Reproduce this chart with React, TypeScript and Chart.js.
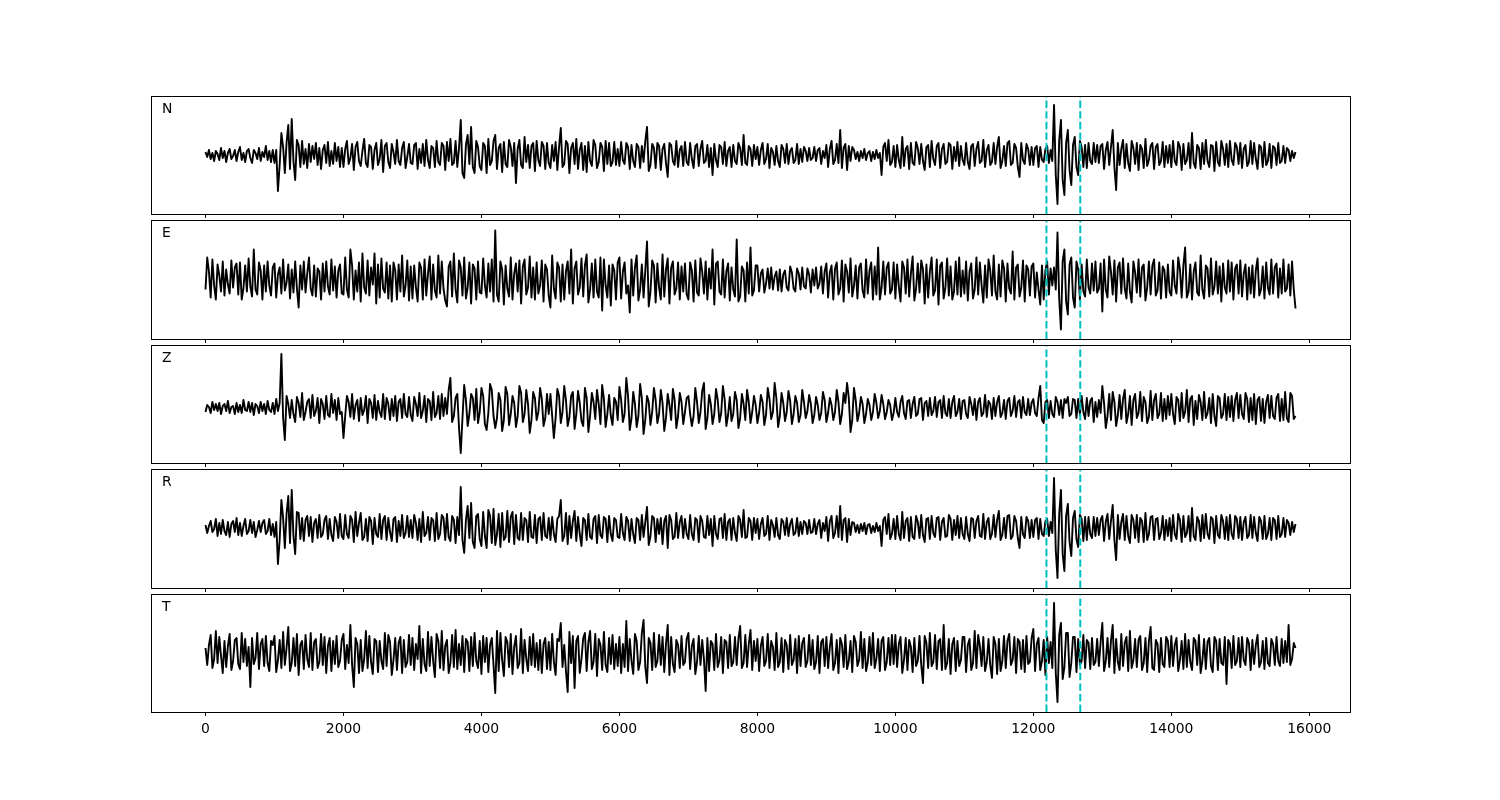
import React, { useEffect, useRef } from "react";
import { Chart, registerables } from "chart.js";

Chart.register(...registerables);

// ---- data ----
const SAMPLE_STEP = 25; // x spacing of the samples
const xTickValues = [0, 2000, 4000, 6000, 8000, 10000, 12000, 14000, 16000];
const xLimits = [-790, 16590];
const pickTimes = [12190, 12680];
const componentNames = ["N", "E", "Z", "R", "T"];

const nValues = [
  3,-2,5,-4,2,-6,4,1,-5,7, -3,4,-7,2,6,-4,-1,5,-6,3, 8,-5,2,-7,4,6,-3,-8,5,2, -4,7,-6,3,-2,9,-5,4,-7,5,
  -8,5,-36,-10,22,8,-18,12,30,-14, 36,-6,-25,15,10,-12,14,-9,6,-13, 11,-7,9,-4,12,-10,7,-14,5,10, -8,13,-11,4,-9,12,-6,8,-12,7,
  -12,6,14,-9,-3,11,-15,8,13,-6, -11,4,16,-8,-12,10,8,-14,5,12, -10,-4,15,-17,9,12,-7,-13,11,3, -9,15,-6,-10,7,13,-13,-2,11,-8,
  -9,10,12,-14,6,-8,11,-11,15,-5, -13,9,7,-12,14,-7,-10,12,9,-15, 13,-6,16,-10,-8,14,-12,7,35,-18, -23,10,20,-9,28,-12,-18,14,8,-11,
  -15,12,9,-18,16,-10,-6,14,20,-14, 7,11,-17,13,-9,-12,15,8,-11,12, -28,6,15,-10,-13,18,-7,10,-13,9, 12,-16,14,-5,-11,13,9,-14,12,-8,
  -13,10,-6,13,-15,8,27,-12,-9,14, 11,-18,7,12,-9,16,-14,5,12,-15, 9,-17,13,-6,-11,15,10,-13,-7,12, 8,-16,14,-9,12,-11,-7,13,-10,6,
  -11,13,-5,-9,12,8,-14,10,-6,-12, 11,8,-13,9,-7,14,28,-16,-10,11, 7,-13,12,9,-15,6,11,-8,-22,12, 10,-6,-10,14,-12,5,9,-11,13,-7,
  -10,12,-4,-13,9,11,-11,6,14,-8, -6,10,-12,7,-20,11,-5,-12,10,8, -9,13,-11,4,8,-12,10,-6,-9,12, 7,-10,20,-8,-10,9,6,-11,10,-4,
  8,-10,5,12,-9,-4,11,-13,7,3, -10,9,-6,-12,10,6,-8,11,-9,4, 7,-8,-5,11,-9,6,-7,8,4,-6, 7,-5,-3,8,-6,5,7,-9,4,-3,
  10,-12,6,14,-9,-5,11,-8,25,-13, 7,11,-15,9,-6,8,5,-4,3,-6, 4,-3,6,-5,2,4,-6,3,-4,5, -3,2,-20,8,12,-6,15,-10,-7,9,
  -12,10,-5,-13,18,-11,6,9,-14,12, -8,-10,13,7,-9,11,-6,-15,8,10, -12,14,-4,-10,9,12,-13,6,11,-9, -7,12,10,-14,8,-6,13,-11,9,-5,
  -10,12,-7,-14,9,11,-11,6,13,-8, -6,15,-12,5,10,-10,-7,12,-9,8, 18,-13,-6,9,-11,12,14,-10,-8,11, 7,-12,-22,12,-5,-9,11,6,-10,8,
  -10,7,9,-12,8,-5,-7,6,9,-8, 5,-6,50,-20,-49,15,35,-25,-40,12, 25,-15,-30,10,18,-12,-20,14,8,-12, 10,-13,12,-6,-9,12,-7,10,-8,9,
  11,-14,5,13,-10,8,25,-12,-35,12, -10,6,15,-13,11,-8,-16,14,7,-9, 12,-15,10,6,-13,16,-11,-5,9,12, -14,8,11,-10,-6,13,-12,9,-8,10,
  -12,14,-6,-10,13,8,-15,11,-9,-5, 12,-13,22,-8,-13,10,7,-14,12,-9, 15,-6,-12,10,9,-16,13,-7,-11,14, 6,-10,11,-12,14,-5,-10,12,8,-9,
  12,-13,6,10,-11,-7,14,-9,12,-4, -14,10,8,-12,13,-10,-6,11,-13,9, 7,-10,12,-8,-6,9,-8,7,5,-6, 4,-3,3,
];

const eValues = [
  -10,22,8,-18,20,-6,-20,15,4,-12, 18,-16,10,-5,-14,19,-8,12,16,-15, 17,-20,-9,14,-12,21,-7,-17,30,-10, -15,17,9,-20,14,-12,18,-6,-16,12,
  16,-18,5,12,-14,20,-11,-3,15,-19, 10,-13,18,-9,-28,14,-10,18,-13,6, 22,-9,-16,14,-17,11,8,-20,16,-12, 18,-7,-15,20,-11,13,-18,9,15,-14,
  -15,22,-10,-18,30,14,-20,9,-12,17, -22,26,-8,-14,19,-16,12,-5,26,-24, 15,-18,21,-9,-13,17,-19,14,-22,17, 9,-20,15,-12,24,-17,-6,19,-21,13,
  -19,14,-8,-22,17,12,-20,20,-16,6, 23,-20,15,-11,-18,24,-14,18,-9,-21, -27,13,18,-17,26,-10,-23,19,12,-16, 22,-19,-8,17,-24,15,11,-20,18,-13,
  -14,21,-6,-18,16,-12,20,-22,49,-15, -22,18,10,-25,14,-9,-17,22,-20,6, 16,-12,19,-24,13,20,-15,-8,23,-18, 12,-20,17,-14,-6,19,-22,15,10,-16,
  -28,24,-9,-19,17,12,-22,15,-20,8, 18,-14,30,-24,11,18,-15,-8,21,-17, 14,25,-23,-10,16,-18,20,-12,-18,22, -31,20,-6,-18,14,-26,15,9,-20,17,
  22,-19,8,17,-14,-6,-33,20,-16,12, 24,-21,-10,15,-18,9,38,-27,-12,19, 14,-23,16,-8,-20,25,-17,10,21,-24, 12,18,-15,-9,17,-20,13,-12,16,-15,
  -20,17,9,-22,19,-13,-16,21,8,-14, 18,-20,11,-9,30,-25,16,18,-12,-15, 20,-18,8,16,-21,12,-10,-17,40,-22, -17,13,9,-22,17,-14,32,-16,-11,14,
  14,-12,6,10,-13,-4,11,-9,12,-10, 3,8,-11,10,-12,5,9,-8,-11,13, 7,-9,-12,11,6,-10,12,-7,-9,11, 5,-13,10,-6,12,-9,-4,13,-14,8,
  16,-18,7,14,-20,11,17,-15,-9,19, -22,15,8,-13,21,-17,-6,14,-19,12, 16,-11,-18,20,-14,9,17,-20,13,-15, 32,-20,-8,18,-15,12,17,-14,-10,17,
  -19,15,-7,-22,18,12,-14,20,-17,6, 23,-21,-9,16,-13,19,10,-24,15,-18, 8,22,-16,-11,20,-25,14,17,-19,-8, 21,-16,13,-20,-12,18,-15,22,-17,9,
  -14,18,-21,8,16,-19,-10,22,-15,17, -6,-23,14,-18,20,9,-16,24,-12,-20, 15,-17,19,11,-22,16,-9,-14,28,-20, 12,15,-17,-8,19,-22,14,10,-16,13,
  16,-18,7,-10,-25,14,-20,9,18,-15, 11,-6,12,-10,47,-20,-50,18,30,-22, -35,15,22,-18,-28,18,10,-20,15,-12, -17,20,-8,-14,16,-11,18,-13,-9,16,
  -32,20,-10,-18,23,8,-15,19,-22,12, 17,-14,21,-9,-19,16,-12,-23,18,7, -13,20,-17,12,15,-21,-8,18,-15,14, 20,-16,-11,17,-19,13,9,-18,15,-12,
  -16,19,-6,-14,22,10,-18,14,32,-18, -12,15,-20,8,17,-13,-16,24,-10,-19, 14,11,-17,21,-15,-7,18,-14,13,-22, 16,-8,-14,19,-12,17,-20,11,15,-14,
  19,-17,6,15,-20,12,-14,14,-18,9, 21,-16,-10,13,-19,17,-8,-15,20,-14, 12,16,-18,11,-14,20,-12,-9,15,-16, 18,-10,-29,
];

const zValues = [
  -4,3,1,-5,6,-2,4,-3,5,-6, 2,4,-3,7,-5,1,2,-6,5,-4, 3,-5,8,-2,-3,6,-4,5,-7,4, 2,-5,6,-3,4,-6,7,-2,-4,5,
  -6,9,-3,5,54,-10,-32,12,4,-10, 8,-6,-14,11,5,-9,15,-12,-4,6, 9,-10,13,-8,-3,10,-15,9,4,-11, 12,-7,-9,14,-5,8,-12,10,-6,-4,
  -30,-8,12,6,-9,14,-11,3,8,-13, 10,-7,-2,12,-15,9,5,-10,13,-12, 7,-4,-9,14,-11,10,4,-12,9,-8, 12,-13,6,9,-10,14,-6,-9,11,-7,
  -13,11,4,-8,15,-10,-3,12,-14,9, 7,-12,16,-9,-5,12,-11,14,-8,10, -6,18,30,-14,-8,10,14,-20,-45,-10, 23,8,-18,-6,14,10,-12,19,-15,-4,
  20,12,-16,-22,-5,24,18,-8,-20,-10, 15,8,-23,-12,21,14,-17,-6,12,5, -19,-8,22,15,-14,-6,18,4,-25,-12, 16,10,-12,-4,20,9,-18,-10,14,-6,
  14,-8,-30,-10,19,12,-15,-4,22,8, -18,-9,12,16,-21,-6,17,5,-13,-18, 20,10,-24,-8,15,6,-11,18,4,-16, 23,9,-19,-6,13,-8,-17,10,6,-12,
  21,8,-14,-6,30,12,-22,-10,16,4, -19,-8,24,10,-26,-12,12,6,-17,-4, 20,8,-15,-6,18,5,-23,-10,14,3, -12,19,8,-20,-8,15,6,-16,-4,10,
  12,-6,-18,-8,20,6,-15,-4,17,25, -21,-10,13,4,-16,-6,19,8,-14,-5, 22,9,-18,-7,11,-13,-6,16,8,-20, -10,14,4,-12,18,6,-15,-4,12,3,
  -15,-5,13,6,-17,-7,20,9,-11,-4, 25,10,-19,-8,15,5,-13,-4,17,7, -16,-6,12,5,-14,-7,18,6,-10,-3, 13,4,-15,-7,11,3,-12,-5,16,8,
  -14,-5,10,3,-12,-4,18,6,-16,-6, 15,5,25,10,-24,-12,20,8,-13,-5, 11,4,-15,-6,9,3,-12,-4,14,5, -10,-3,13,4,-11,-4,8,3,-12,-5,
  10,-4,-9,6,12,-5,-11,7,8,-10, 4,11,-8,-6,9,10,-12,5,7,-8, 10,-7,-3,11,-9,6,8,-10,12,-5, -8,9,-10,6,12,-8,-4,9,-11,7,
  8,-6,-10,11,4,-7,9,-12,6,10, -8,-5,13,-9,7,4,-11,10,-8,6, 12,-9,-5,8,-11,7,10,-8,-3,12, -9,6,8,-10,11,-4,-7,9,-7,5,
  9,-5,-8,10,22,-12,-15,6,8,-10, 7,-6,-9,11,6,-7,8,-10,9,5, 11,-8,-6,9,8,-10,9,-7,12,-4, -11,10,-8,7,10,-14,6,-9,8,-5,
  22,5,-20,-8,14,-12,16,6,-18,-7, 13,-11,9,18,-15,-6,12,-17,8,14, -10,-5,16,-13,11,6,-15,-9,17,-12, 8,14,-10,-6,15,-13,9,-11,12,-7,
  14,-6,-16,11,8,-13,15,-10,-4,18, -14,9,12,-17,7,-11,13,6,-12,16, -10,-5,10,-15,14,-8,-18,12,10,-10, -6,14,-12,11,-9,12,-13,8,15,-10,
  13,-6,-11,15,9,-14,10,-12,14,-16, 8,11,-13,9,-15,6,13,-10,12,-8, -11,10,14,-13,9,-12,16,-10,-14,15, 12,-11,-8,
];

const rValues = [
  3,-5,2,7,-4,-1,9,-8,5,-6, 8,-3,-7,6,-9,4,7,-4,10,-7, 5,-8,2,9,-6,-3,8,-5,6,-9, -2,7,-4,5,8,-6,-3,9,-7,4,
  -9,6,-36,-12,28,10,-20,14,32,-15, 38,-8,-26,16,15,-11,10,-13,8,12, -8,11,-14,5,9,-10,13,-9,-6,8, 12,-11,9,-7,-13,11,6,-10,14,-8,
  -11,13,-6,-10,12,8,-14,16,-8,5, 15,-12,-9,9,-13,11,7,-16,10,-6, -9,14,-11,8,12,-12,10,-4,-13,9, 11,-14,7,-8,13,-10,-5,12,-9,8,
  -10,13,5,-12,9,-14,16,-8,-5,11, -12,10,8,-13,15,-11,-6,13,10,-12, 14,-9,-13,12,8,-15,11,-7,41,-12, -25,8,22,-10,25,-14,-20,12,14,-11,
  -18,16,-8,-20,18,12,-15,19,-17,-6, 14,-19,15,-12,-9,17,-14,11,16,-16, 13,-10,-12,15,-12,10,8,-14,16,-9, -10,13,-15,9,11,-12,15,-8,-10,10,
  -12,11,-6,-14,9,12,28,-13,-8,15, -16,12,-10,7,17,-13,11,-6,-18,10, 8,-12,14,-9,-11,9,12,-15,13,-7, -10,11,9,-14,12,-6,-13,10,8,-9,
  -10,14,-5,-12,11,7,-13,9,-6,-15, 10,8,-12,13,-9,6,21,-17,-8,12, 10,-14,9,-6,10,-16,7,12,-20,13, 8,-11,-9,15,-10,6,12,-10,9,-6,
  -11,13,-6,-12,10,8,-14,12,7,-9, -10,12,-7,9,-18,12,-6,-11,9,10, -10,14,-12,6,9,-12,10,-5,-13,12, 8,-9,18,-10,-9,10,7,-12,10,-5,
  9,-11,4,10,-8,-6,12,-12,8,3, -9,10,-7,-11,9,6,-7,10,-8,4, 9,-7,-5,10,-8,6,-6,7,5,-6, 8,-5,-4,9,-6,4,8,-10,5,-3,
  11,-13,7,12,-10,-5,12,-9,22,-12, 8,10,-14,9,-7,6,5,-4,3,-5, 4,-3,5,-6,3,4,-5,2,-4,5, -3,2,-18,8,11,-6,14,-11,-6,9,
  -11,12,-6,-12,16,-10,7,10,-13,11, -9,-11,12,6,-10,13,-7,-14,9,10, -11,12,-5,-9,10,11,-12,6,10,-9, -8,13,9,-12,8,-7,12,-10,10,-6,
  -11,11,-6,-13,10,9,-10,7,12,-8, -9,14,-11,6,10,-11,-6,13,-9,8, 17,-12,-7,10,-10,12,13,-11,-8,12, 7,-10,-20,11,-6,-10,11,7,-10,8,
  -9,8,10,-11,9,-6,-8,7,9,-8, 6,-5,50,-22,-50,14,38,-26,-43,12, 24,-14,-28,10,17,-11,-19,13,9,-13, 11,-12,11,-6,-10,11,-8,10,-7,8,
  12,-13,6,14,-11,7,23,-12,-32,13, -11,6,14,-12,12,-8,-15,13,8,-10, 13,-14,10,7,-14,15,-12,-6,11,12, -12,9,10,-11,-5,12,-12,8,-8,10,
  -13,13,-6,-11,14,8,-14,12,-9,-5, 12,-13,20,-8,-12,11,7,-13,13,-10, 14,-6,-11,11,9,-15,12,-7,-10,13, 7,-11,11,-12,13,-6,-11,12,9,-10,
  11,-12,6,11,-10,-7,13,-10,11,-5, -13,11,7,-11,12,-11,-6,10,-12,10, 8,-11,12,-9,-6,10,-9,8,5,-7, 6,-4,4,
];

const tValues = [
  5,-12,8,18,-15,-6,22,-10,16,-3, -20,12,-14,7,19,-17,-8,13,15,-11, -16,20,-9,14,-13,6,-34,15,-11,-5, 20,-16,9,14,-13,17,-10,-18,12,8,
  17,-19,-7,13,-15,21,-12,5,26,-18, -10,15,-13,19,-22,8,12,-16,18,-6, -14,20,-17,11,14,-15,-9,19,-12,16, -20,7,15,-18,12,-11,17,-14,-8,13,
  19,-16,8,-10,28,-12,-34,15,9,-20, 13,-18,-6,22,-15,17,-9,-21,14,12, -19,12,-8,-16,20,-13,18,11,-22,-7, 15,-17,10,16,-20,13,-14,-9,18,-12,
  15,-17,9,-6,27,-20,14,-11,-18,21, -13,16,-8,-24,19,12,-15,22,-17,7, 13,-20,-10,18,-14,23,-16,9,-12,17, -19,14,11,-18,16,-13,20,-8,-15,12,
  -21,17,-9,15,-19,8,15,-12,-40,22, -18,20,-7,-23,16,11,-14,19,-21,6, 17,-15,-10,24,-20,13,-6,-18,16,-12, 19,-14,10,-17,13,-20,9,15,-16,11,
  -17,19,-9,-22,14,12,30,-14,8,-18, -39,21,-10,17,-35,12,17,-20,-6,15, 20,-18,11,22,-16,-9,19,-23,14,8, -17,21,-12,-19,15,-11,18,-16,9,-13,
  16,-20,9,-14,32,-18,14,-8,-21,19, 12,-17,-9,20,33,-14,-30,15,10,-17, 20,-14,-8,18,-12,16,-19,9,28,-22, 16,-11,-19,13,8,-15,17,-12,-9,14,
  20,-16,7,14,-21,-9,17,-12,13,-6, -38,15,-18,12,9,-17,19,-14,-7,16, -20,13,11,-15,18,-13,-9,16,-12,14, 27,-15,-10,18,-14,9,23,-17,12,-8,
  14,-18,7,16,-13,-8,19,-15,12,6, -17,20,-14,-9,15,-19,13,8,-16,18, -12,-7,14,-20,17,-13,10,15,-14,-8, 18,-12,13,-16,-9,17,-20,11,14,-13,
  16,-15,6,19,-17,-10,13,-20,15,9, -14,18,-16,-8,12,-19,17,11,-13,-7, 21,-15,14,-18,-9,16,-12,20,-15,-6, 14,-18,12,16,-17,-9,15,-12,18,-11,
  18,-14,9,16,-20,-7,15,-17,13,6, -19,15,-13,-8,17,-12,-30,17,10,-15, 20,-13,-9,18,-16,12,14,-17,28,-16, -10,14,-21,9,15,-18,12,-13,-7,16,
  16,-19,8,14,-17,-10,22,-15,18,7, -13,16,-18,-9,14,-12,-25,16,9,-21, 14,-18,-8,17,-15,12,19,-12,-7,16, -20,14,11,-16,13,-19,17,-11,-9,15,
  24,-18,9,15,-17,-8,13,-22,16,-10, 11,-15,50,-20,-49,18,30,-26,-14,20, 20,-24,-10,16,16,-19,14,-12,-8,18, -15,13,10,-16,15,-12,-9,14,-13,11,
  30,-18,-8,15,-14,12,28,-20,14,-9, -17,19,-13,10,16,-18,22,-15,-7,14, -14,13,17,-17,-10,15,-19,12,26,-15, -17,13,9,-19,15,-11,-14,16,12,-14,
  17,-13,8,15,-18,-7,12,-16,19,-14, 13,-9,-17,15,12,-12,18,-20,-8,14, -16,11,15,-13,-19,16,12,-17,14,-10, -12,16,-31,13,9,-15,17,-12,-8,15,
  -14,16,-7,-12,15,10,-17,13,-11,8, 18,-14,-9,12,-16,15,-10,-13,14,9, -12,16,-8,-13,14,-10,12,-9,28,-12, -6,10,5,
];

const seriesList = [nValues, eValues, zValues, rValues, tValues];
const yLimitsList = [
  [-59, 59],
  [-59.5, 59.5],
  [-55, 63],
  [-60, 59],
  [-59, 59],
];

// ---- layout ----
const panelTops = [96, 220, 345, 469, 594];
const panelHeights = [118, 119, 118, 119, 118];
const FONT = "'DejaVu Sans', 'Liberation Sans', sans-serif";

function Panel({ index }: { index: number }) {
  const ref = useRef<HTMLCanvasElement>(null);
  const isBottom = index === seriesList.length - 1;
  const axisH = isBottom ? 40 : 6;
  const canvasH = panelHeights[index] + axisH;

  useEffect(() => {
    const values = seriesList[index];
    const [ymin, ymax] = yLimitsList[index];
    const name = componentNames[index];

    const framePlugin = {
      id: "frame" + index,
      afterDraw(chart: any) {
        const { ctx, chartArea } = chart;
        ctx.save();
        ctx.strokeStyle = "#000";
        ctx.lineWidth = 1;
        ctx.strokeRect(
          chartArea.left + 0.5,
          chartArea.top + 0.5,
          chartArea.right - chartArea.left,
          chartArea.bottom - chartArea.top
        );
        ctx.fillStyle = "#000";
        ctx.font = "13.9px " + FONT;
        ctx.textBaseline = "alphabetic";
        ctx.textAlign = "left";
        ctx.fillText(name, chartArea.left + 11, chartArea.top + 17);
        ctx.restore();
      },
    };

    const pickSets = pickTimes.map((t) => ({
      data: [
        { x: t, y: ymin },
        { x: t, y: ymax },
      ],
      borderColor: "#00BFBF",
      borderWidth: 2,
      borderDash: [7.4, 3.2],
      pointRadius: 0,
      fill: false,
    }));

    const chart = new Chart(ref.current as HTMLCanvasElement, {
      type: "line",
      data: {
        datasets: [
          ...pickSets,
          {
            data: values.map((v, i) => ({ x: i * SAMPLE_STEP, y: v })),
            borderColor: "#000000",
            borderWidth: 1.9,
            pointRadius: 0,
            borderJoinStyle: "round",
            tension: 0,
            fill: false,
          },
        ],
      } as any,
      options: {
        responsive: false,
        animation: false,
        events: [],
        layout: { padding: { left: 151, right: 150, top: 0, bottom: 0 } },
        plugins: { legend: { display: false }, tooltip: { enabled: false } },
        scales: {
          x: {
            type: "linear",
            min: xLimits[0],
            max: xLimits[1],
            afterBuildTicks: (s: any) => {
              s.ticks = xTickValues.map((v) => ({ value: v }));
            },
            afterFit: (s: any) => {
              s.height = axisH;
            },
            grid: {
              drawOnChartArea: false,
              drawTicks: true,
              tickLength: 4,
              color: "#000",
              lineWidth: 1,
            },
            border: { display: false },
            ticks: {
              display: true,
              color: isBottom ? "#000" : "rgba(0,0,0,0)",
              font: { family: FONT, size: 13.9 },
              padding: 5,
              autoSkip: false,
              maxRotation: 0,
              callback: (v: any) => String(v),
            },
          },
          y: { display: false, min: ymin, max: ymax },
        },
      } as any,
      plugins: [framePlugin],
    });
    return () => chart.destroy();
  }, [index]);

  return (
    <canvas
      ref={ref}
      width={1500}
      height={canvasH}
      style={{ position: "absolute", left: 0, top: panelTops[index], width: 1500, height: canvasH }}
    />
  );
}

export default function App() {
  return (
    <div
      style={{
        position: "fixed",
        left: 0,
        top: 0,
        width: 1500,
        height: 800,
        background: "#fff",
        overflow: "hidden",
      }}
    >
      {seriesList.map((_, i) => (
        <Panel key={i} index={i} />
      ))}
    </div>
  );
}
